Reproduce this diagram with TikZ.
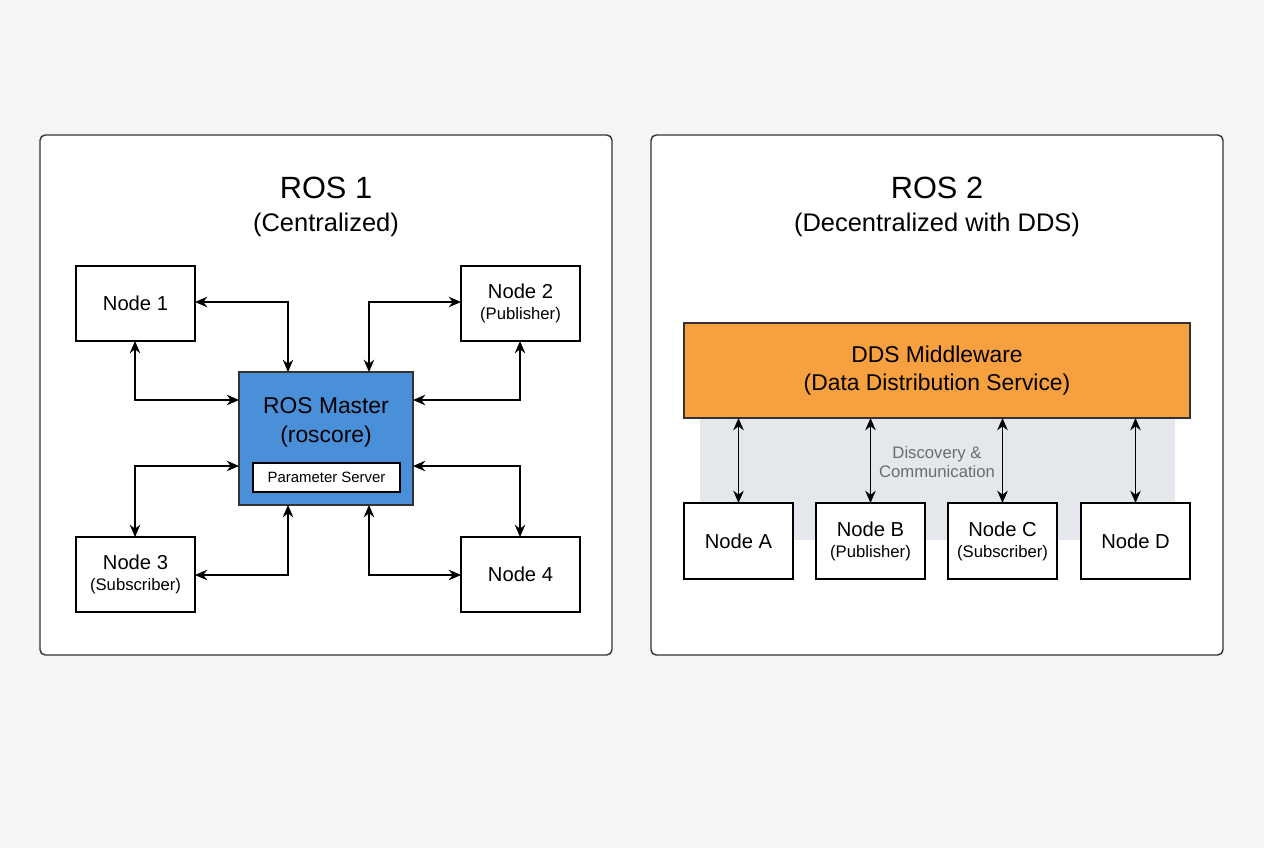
\documentclass[tikz,border=0pt]{standalone}
\usepackage{fontspec}
\setmainfont{Liberation Sans}
\usetikzlibrary{arrows.meta}
\definecolor{bg}{HTML}{F3F5F7}
\definecolor{frame}{HTML}{333333}
\definecolor{master}{HTML}{4A90D9}
\definecolor{dds}{HTML}{F7A040}
\definecolor{band}{HTML}{E4E7EC}
\begin{document}
\begin{tikzpicture}[x=0.02cm,y=-0.02cm,
  panel/.style={draw=frame,fill=white,rounded corners=3pt,line width=0.8pt},
  box/.style={draw=black,fill=white,line width=0.7pt},
  arr/.style={{Stealth[length=7pt,width=6pt]}-{Stealth[length=7pt,width=6pt]},line width=0.8pt},
  big/.style={font=\fontsize{17.5}{20}\selectfont},
  sub/.style={font=\fontsize{14.5}{17}\selectfont},
  nt/.style={font=\fontsize{11.5}{14}\selectfont,align=center}]
\fill[bg] (0,0) rectangle (1264,848);
\useasboundingbox (0,0) rectangle (1264,848);
% left panel
\draw[panel] (40,135) rectangle (612,655);
\node[big] (t1) at (326,188) {ROS 1};
\node[sub] (s1) at (326,225) {(Centralized)};
\draw[box] (76,266) rectangle (195,341); \node[nt] (n1) at (135.5,303.5) {Node 1};
\draw[box] (461,266) rectangle (580,341); \node[nt] (n2) at (520.5,303.5) {Node 2\\[-2pt]{\fontsize{9.5}{11}\selectfont(Publisher)}};
\draw[box] (76,537) rectangle (195,612); \node[nt] (n3) at (135.5,574.5) {Node 3\\[-2pt]{\fontsize{9.5}{11}\selectfont(Subscriber)}};
\draw[box] (461,537) rectangle (580,612); \node[nt] (n4) at (520.5,574.5) {Node 4};
\draw[draw=frame,fill=master,line width=0.8pt] (239,372) rectangle (413,505);
\node[font=\fontsize{13}{16.5}\selectfont,align=center] (m) at (326,422) {ROS Master\\(roscore)};
\draw[box,line width=0.6pt] (253,463) rectangle (400,492);
\node[font=\fontsize{8.5}{10}\selectfont] (ps) at (326.5,477.5) {Parameter Server};
\draw[arr] (195,302) -| (288,372);
\draw[arr] (135,341) |- (239,400);
\draw[arr] (461,302) -| (369,372);
\draw[arr] (520,341) |- (413,400);
\draw[arr] (135,537) |- (239,466);
\draw[arr] (195,575) -| (288,505);
\draw[arr] (461,575) -| (369,505);
\draw[arr] (520,537) |- (413,466);
% right panel
\draw[panel] (651,135) rectangle (1223,655);
\node[big] (t2) at (937,188) {ROS 2};
\node[sub] (s2) at (937,225) {(Decentralized with DDS)};
\fill[band] (700,418) rectangle (1175,540);
\draw[draw=frame,fill=dds,line width=0.8pt] (684,323) rectangle (1190,418);
\node[font=\fontsize{13}{16}\selectfont,align=center] (d) at (937,371) {DDS Middleware\\(Data Distribution Service)};
\node[font=\fontsize{9.5}{11}\selectfont,text=gray!85!black,align=center] (dc) at (937,462) {Discovery \&\\Communication};
\foreach \n/\x/\t in {A/684/{Node A},B/816/{Node B\\[-2pt]{\fontsize{9.5}{11}\selectfont(Publisher)}},C/948/{Node C\\[-2pt]{\fontsize{9.5}{11}\selectfont(Subscriber)}},D/1081/{Node D}}{
  \draw[box] (\x,503) rectangle ++(109,76);
  \node[nt] (N\n) at (\x+54.5,541) {\t};
  \draw[arr] (\x+54.5,418) -- (\x+54.5,503);
}
\end{tikzpicture}
\end{document}
